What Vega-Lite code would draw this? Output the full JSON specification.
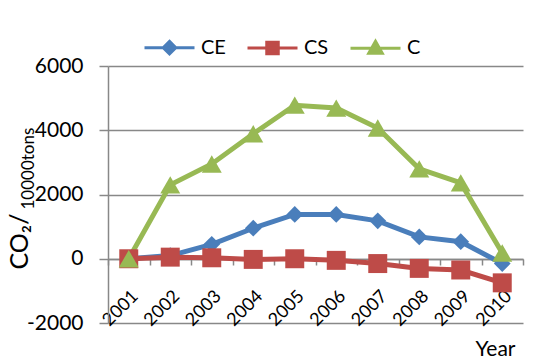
{
  "$schema": "https://vega.github.io/schema/vega-lite/v6.json",
  "width": 415,
  "height": 257,
  "autosize": {"type": "none"},
  "padding": {"left": 108, "top": 66, "right": 18, "bottom": 40},
  "background": "white",
  "config": {
    "view": {"stroke": null},
    "font": "Lato, DejaVu Sans, sans-serif"
  },
  "data": {
    "values": [
      {"year": "2001", "series": "CE", "value": 0},
      {"year": "2002", "series": "CE", "value": 100},
      {"year": "2003", "series": "CE", "value": 450},
      {"year": "2004", "series": "CE", "value": 950},
      {"year": "2005", "series": "CE", "value": 1380},
      {"year": "2006", "series": "CE", "value": 1380},
      {"year": "2007", "series": "CE", "value": 1180},
      {"year": "2008", "series": "CE", "value": 680},
      {"year": "2009", "series": "CE", "value": 530},
      {"year": "2010", "series": "CE", "value": -150},
      {"year": "2001", "series": "CS", "value": 0},
      {"year": "2002", "series": "CS", "value": 50},
      {"year": "2003", "series": "CS", "value": 30},
      {"year": "2004", "series": "CS", "value": -20},
      {"year": "2005", "series": "CS", "value": 0},
      {"year": "2006", "series": "CS", "value": -50},
      {"year": "2007", "series": "CS", "value": -150},
      {"year": "2008", "series": "CS", "value": -300},
      {"year": "2009", "series": "CS", "value": -350},
      {"year": "2010", "series": "CS", "value": -750},
      {"year": "2001", "series": "C", "value": 0},
      {"year": "2002", "series": "C", "value": 2300},
      {"year": "2003", "series": "C", "value": 2950},
      {"year": "2004", "series": "C", "value": 3890},
      {"year": "2005", "series": "C", "value": 4780},
      {"year": "2006", "series": "C", "value": 4690},
      {"year": "2007", "series": "C", "value": 4070},
      {"year": "2008", "series": "C", "value": 2800},
      {"year": "2009", "series": "C", "value": 2360},
      {"year": "2010", "series": "C", "value": 180}
    ]
  },
  "resolve": {"scale": {"y": "independent"}, "axis": {"y": "independent"}},
  "encoding": {
    "x": {
      "field": "year",
      "type": "ordinal",
      "scale": {"paddingInner": 0, "paddingOuter": 0},
      "axis": {
        "title": "Year",
        "titleFontSize": 21,
        "titleFontWeight": "normal",
        "titleColor": "#000",
        "titleAlign": "right",
        "titleBaseline": "alphabetic",
        "titleAnchor": null,
        "titleX": 407,
        "titleY": 96,
        "offset": -64,
        "labelAngle": -45,
        "labelFontSize": 18,
        "labelColor": "#000",
        "labelPadding": 22,
        "tickBand": "extent",
        "tickSize": 6,
        "tickColor": "#888",
        "tickWidth": 1.5,
        "domainColor": "#888",
        "domainWidth": 1.5,
        "grid": false
      }
    },
    "color": {
      "field": "series",
      "type": "nominal",
      "scale": {"domain": ["CE", "CS", "C"], "range": ["#4A7EBB", "#BE4B48", "#98B954"]}
    }
  },
  "layer": [
    {
      "mark": {"type": "line", "strokeWidth": 5},
      "encoding": {
        "y": {
          "field": "value",
          "type": "quantitative",
          "scale": {"domain": [-2000, 6000], "nice": false, "zero": false},
          "axis": {
            "orient": "left",
            "values": [-2000, 0, 2000, 4000, 6000],
            "labelExpr": "'' + datum.value",
            "title": "CO₂/",
            "titleFontSize": 25,
            "titleFontWeight": "normal",
            "titleColor": "#000",
            "titleAngle": -90,
            "titleAlign": "left",
            "titleBaseline": "alphabetic",
            "titleAnchor": null,
            "titleX": -81,
            "titleY": 203,
            "labelFontSize": 21,
            "labelColor": "#000",
            "labelPadding": 16,
            "tickSize": 9,
            "tickColor": "#888",
            "tickWidth": 1.5,
            "domainColor": "#888",
            "domainWidth": 1.5,
            "grid": true,
            "gridColor": "#888",
            "gridWidth": 1.5
          }
        },
        "color": {
          "field": "series",
          "type": "nominal",
          "legend": {
            "title": null,
            "orient": "none",
            "direction": "horizontal",
            "legendX": 35,
            "legendY": -45,
            "labelFontSize": 20,
            "labelColor": "#000",
            "labelOffset": 5,
            "columnPadding": 15,
            "symbolSize": 2500,
            "symbolStrokeWidth": 3,
            "encode": {
              "symbols": {
                "update": {
                  "shape": {"signal": "datum.value === 'CE' ? 'M-1,0H1M0,-0.25L0.25,0L0,0.25L-0.25,0Z' : datum.value === 'CS' ? 'M-1,0H1M-0.23,-0.23H0.23V0.23H-0.23Z' : 'M-1,0H1M-0.27,0.2L0,-0.28L0.27,0.2Z'"},
                  "strokeWidth": {"value": 3},
                  "opacity": {"value": 1}
                }
              }
            }
          }
        }
      }
    },
    {
      "transform": [{"filter": "datum.series === 'CE'"}],
      "mark": {"type": "point", "filled": true, "opacity": 1, "shape": "diamond", "size": 280},
      "encoding": {
        "y": {
          "field": "value",
          "type": "quantitative",
          "scale": {"domain": [-2000, 6000], "nice": false, "zero": false},
          "axis": {
            "orient": "left",
            "title": "10000tons",
            "titleFontSize": 17,
            "titleFontWeight": "normal",
            "titleColor": "#000",
            "titleAngle": -90,
            "titleAlign": "left",
            "titleBaseline": "alphabetic",
            "titleAnchor": null,
            "titleX": -75,
            "titleY": 143,
            "labels": false,
            "ticks": false,
            "domain": false,
            "grid": false
          }
        }
      }
    },
    {
      "transform": [{"filter": "datum.series === 'CS'"}],
      "mark": {"type": "point", "filled": true, "opacity": 1, "shape": "square", "size": 360},
      "encoding": {
        "y": {
          "field": "value",
          "type": "quantitative",
          "scale": {"domain": [-2000, 6000], "nice": false, "zero": false},
          "axis": null
        }
      }
    },
    {
      "transform": [{"filter": "datum.series === 'C'"}],
      "mark": {"type": "point", "filled": true, "opacity": 1, "shape": "triangle-up", "size": 400},
      "encoding": {
        "y": {
          "field": "value",
          "type": "quantitative",
          "scale": {"domain": [-2000, 6000], "nice": false, "zero": false},
          "axis": null
        }
      }
    }
  ]
}
